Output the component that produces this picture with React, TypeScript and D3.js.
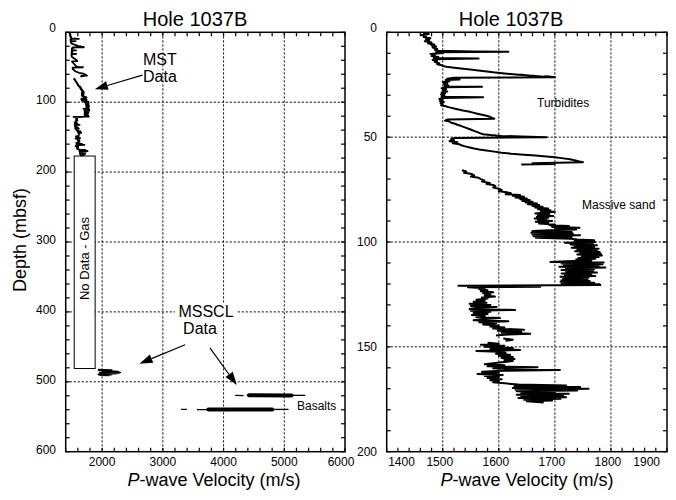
import React from "react";
import * as d3 from "d3";

type Pt = [number, number] | null; // [depth (mbsf), velocity (m/s)]

const panelTitles = ["Hole 1037B", "Hole 1037B"];
const yAxisTitle = "Depth (mbsf)";
const leftXTicks = [2000, 3000, 4000, 5000, 6000];
const leftYTicks = [0, 100, 200, 300, 400, 500, 600];
const rightXTicks = [1400, 1500, 1600, 1700, 1800, 1900];
const rightYTicks = [0, 50, 100, 150, 200];
const leftXGrid = [2000, 3000, 4000, 5000];
const leftYGrid = [100, 200, 300, 400, 500];
const rightXGrid = [1500, 1600, 1700, 1800];
const rightYGrid = [50, 100, 150];

// MST P-wave velocity trace
const mstTrace: Pt[] = [
  [0.3,1465],[0.8,1475],[1.3,1462],[1.8,1470],[2.3,1466],[2.8,1478],[3.3,1470],[3.8,1476],[4.3,1468],[4.8,1480],
  [5.3,1474],[5.8,1485],[6.3,1480],[6.8,1488],[7.3,1482],[7.8,1490],[8.3,1486],[8.8,1492],[9.1,1555],[9.3,1617],
  [9.5,1488],[9.9,1500],[10.3,1478],[10.8,1486],[11.3,1480],[11.8,1492],[12.2,1484],[12.5,1564],[12.8,1486],[13.2,1482],
  [13.7,1490],[14.2,1486],[14.7,1494],[15.2,1490],[15.7,1498],[16.2,1502],[16.6,1510],[17.1,1528],[17.6,1545],[18.1,1560],
  [18.6,1575],[19.1,1590],[19.6,1610],[20.1,1630],[20.5,1648],[20.3,1640],[20.9,1665],[20.7,1660],[21.2,1680],[21.0,1685],[21.4,1700],
  [21.7,1520],[22.1,1508],[22.5,1530],[22.8,1505],[23.3,1512],[23.8,1500],[24.3,1508],[24.8,1502],[25.3,1510],[25.8,1503],
  [26,1570],[26.2,1505],[26.7,1498],[27.2,1506],[27.7,1500],[28.2,1508],[28.7,1498],[29.2,1504],[29.7,1497],[30.2,1503],
  [30.7,1498],[31,1572],[31.3,1500],[31.8,1494],[32.3,1500],[32.8,1495],[33.3,1502],[33.8,1496],[34.3,1500],[34.8,1497],
  [35.3,1505],[35.8,1512],[36.3,1520],[36.8,1528],[37.3,1536],[37.8,1546],[38.3,1554],[38.8,1562],[39.3,1570],[39.8,1578],
  [40.3,1584],[40.8,1588],[41.2,1592],
  [41.6,1508],[42.1,1504],[42.6,1512],[43.1,1515],[43.6,1522],[44.1,1526],[44.6,1532],[45.1,1537],[45.6,1542],[46.1,1547],
  [46.6,1552],[47.1,1557],[47.6,1562],[48.1,1566],[48.6,1572],[49,1585],[49.4,1605],[49.7,1640],[50,1685],
  [50.4,1522],[50.9,1515],[51.4,1520],[51.9,1512],[52.4,1526],[52.9,1518],[53.4,1530],[53.9,1533],[54.4,1540],[54.9,1548],
  [55.4,1556],[55.9,1565],[56.4,1578],[56.9,1592],[57.4,1605],[57.9,1622],[58.4,1645],[58.8,1665],[59.2,1685],[59.6,1700],
  [60,1712],[60.5,1727],[61,1735],[61.5,1742],[62,1750],[62.4,1660],[62.8,1700],[63.1,1640],
  null,
  [65.8,1534],[66.4,1542],[67,1538],[67.6,1552],[68.2,1556],[68.8,1550],[69.4,1564],[70,1568],[70.6,1574],[71.2,1570],
  [71.8,1584],[72.3,1578],[72.8,1590],[73.4,1594],[74,1590],[74.6,1600],[75.2,1605],[75.8,1600],[76.3,1614],[76.8,1622],
  [77.2,1612],[77.6,1638],[78,1625],[78.4,1645],[78.8,1630],[79.2,1650],[79.6,1638],[80,1655],[80.4,1642],[80.8,1660],
  [81.2,1648],[81.6,1668],[82,1652],[82.4,1672],[82.8,1660],[83.2,1678],[83.6,1665],[84,1688],[84.4,1670],[84.8,1692],
  [85.2,1675],[85.6,1700],[86,1678],[86.4,1665],[86.8,1690],[87.2,1670],[87.6,1697],[88,1668],[88.4,1688],[88.8,1664],
  [89.2,1685],[89.6,1670],[90,1695],[90.4,1666],[90.8,1688],[91.2,1672],[91.6,1700],[92,1690],[92.4,1725],[92.8,1695],
  [93.2,1744],[93.6,1700],[94,1738],[94.4,1690],[94.8,1660],[95.2,1730],[95.6,1658],[96,1732],[96.4,1660],[96.8,1745],
  [97.2,1662],[97.6,1730],[98,1666],[98.4,1728],
  [98.8,1740],[99.2,1770],[99.6,1735],[100,1772],[100.4,1718],[100.8,1768],[101.2,1728],[101.6,1775],[102,1735],[102.4,1770],
  [102.8,1730],[103.2,1778],[103.6,1740],[104,1775],[104.4,1736],[104.8,1780],[105.2,1745],[105.6,1782],[106,1740],[106.4,1784],
  [106.8,1748],[107.2,1778],[107.6,1742],[108,1772],[108.4,1738],[108.8,1765],[109.2,1720],[109.5,1692],[109.8,1787],[110.2,1712],
  [110.6,1785],[111,1716],[111.4,1778],[111.8,1708],[112.2,1790],[112.6,1720],[113,1770],[113.4,1712],[113.8,1768],[114.2,1720],
  [114.6,1775],[115,1712],[115.4,1765],[115.8,1718],[116.2,1772],[116.6,1710],[117,1760],[117.4,1715],[117.8,1758],[118.2,1712],
  [118.6,1762],[119,1710],[119.4,1770],[119.8,1712],[120.2,1780],[120.5,1781],[120.9,1528],[121.3,1674],[121.6,1545],
  [122,1575],[122.5,1565],[123,1580],[123.5,1568],[124,1590],[124.5,1572],[125,1585],[125.5,1575],[126,1593],[126.5,1570],
  [127,1580],[127.5,1560],[128,1575],[128.5,1555],[129,1578],[129.5,1548],[130,1585],[130.5,1550],[131,1596],[131.5,1560],
  [132,1548],[132.4,1629],[132.8,1550],[133.3,1585],[133.8,1555],[134.3,1580],[134.8,1552],[135.3,1575],[135.8,1560],[136.3,1602],
  [136.8,1570],[137.3,1555],[137.8,1617],[138.3,1565],[138.8,1595],[139.3,1572],[139.8,1600],[140.3,1585],[140.8,1610],[141.3,1590],
  [141.8,1645],[142.3,1598],[142.8,1640],[143.3,1605],[143.8,1656],[144.2,1610],[144.6,1595],
  null,
  [146,1608],[146.6,1625],[147.1,1612],
  null,
  [148,1580],[148.5,1600],[149,1568],[149.5,1610],[150,1575],[150.5,1625],[151,1585],[151.5,1638],[152,1560],[152.3,1600],
  [152.8,1612],[153.3,1595],[153.8,1620],[154.3,1600],[154.8,1625],[155.3,1605],[155.8,1628],[156.3,1610],[156.8,1625],[157.3,1605],
  [157.8,1590],[158.3,1575],[158.8,1610],[159.3,1580],[159.7,1669],[160.2,1590],[160.7,1620],[161,1709],[161.4,1605],[161.9,1570],
  [162.4,1600],[162.9,1562],[163.4,1607],[163.9,1575],[164.4,1600],[164.9,1580],[165.4,1605],[165.9,1585],[166.4,1600],[166.9,1590],
  [167.4,1610],[168,1635],[168.4,1720],[168.8,1628],[169.2,1745],[169.6,1625],[170,1760],[170.4,1630],[170.8,1740],[171.2,1632],
  [171.6,1700],[172,1640],[172.4,1725],[172.8,1632],[173.2,1715],[173.6,1640],[174,1720],[174.4,1635],[174.8,1710],[175.2,1645],
  [175.6,1695],[176,1650],[176.5,1680]
];

// MSSCL data (deep part of the hole)
const mssclShallow: Pt[] = [
  [482.5,1930],[483,2160],[483.8,1940],[484.6,2120],[485.3,2270],[486,2000],[486.6,2300],[487.2,1960],
  [487.8,2280],[488.5,2200],[489.2,1935],[489.8,2150],[490.5,1950],[491,2120]
];
const basaltThin: Pt[] = [
  [519.5,4190],[519.8,4330], null, [519.2,4380],[519.5,5345], null,
  [539.5,3300],[539.5,3395], null, [539.8,3560],[539.5,5070]
];
const basaltCore: Pt[] = [
  [519.2,4420],[519.5,5120], null, [539.5,3750],[539.8,4800]
];

// "No Data - Gas" interval
const noDataDepth = [177, 481];
const noDataVel = [1540, 1885];

// annotation arrows: [depth, velocity] from -> to
const leftArrows: [[number, number], [number, number]][] = [
  [[61.3, 2665], [81.3, 1880]],
  [[447, 3367], [474, 2616]],
  [[451.5, 3775], [504.6, 4217]]
];

const FONT = "'Liberation Sans', Arial, Helvetica, sans-serif";

function Frame({ xs, ys, xStep, yStep, xGrid, yGrid }: any) {
  const [x0, x1] = xs.range();
  const [y0, y1] = ys.range();
  const [dx0, dx1] = xs.domain();
  const [dy0, dy1] = ys.domain();
  const xm = d3.range(dx0, dx1 + 1e-6, xStep);
  const ym = d3.range(dy0, dy1 + 1e-6, yStep);
  const T = 4;
  return (
    <g>
      {xGrid.map((v: number) => (
        <line key={"gx" + v} x1={xs(v)} x2={xs(v)} y1={y0} y2={y1} stroke="#111" strokeWidth={1} strokeDasharray="2.2,1.8" />
      ))}
      {yGrid.map((v: number) => (
        <line key={"gy" + v} x1={x0} x2={x1} y1={ys(v)} y2={ys(v)} stroke="#111" strokeWidth={1} strokeDasharray="2.2,1.8" />
      ))}
      {xm.map((v: number) => (
        <g key={"tx" + v}>
          <line x1={xs(v)} x2={xs(v)} y1={y0} y2={y0 + T} stroke="#000" strokeWidth={1.2} />
          <line x1={xs(v)} x2={xs(v)} y1={y1} y2={y1 - T} stroke="#000" strokeWidth={1.2} />
        </g>
      ))}
      {ym.map((v: number) => (
        <g key={"ty" + v}>
          <line x1={x0} x2={x0 + T} y1={ys(v)} y2={ys(v)} stroke="#000" strokeWidth={1.2} />
          <line x1={x1} x2={x1 - T} y1={ys(v)} y2={ys(v)} stroke="#000" strokeWidth={1.2} />
        </g>
      ))}
    </g>
  );
}

function Arrow({ from, to }: { from: [number, number]; to: [number, number] }) {
  const [fx, fy] = from;
  const [tx, ty] = to;
  const dx = tx - fx, dy = ty - fy;
  const L = Math.hypot(dx, dy);
  const ux = dx / L, uy = dy / L;
  const len = 13, hw = 4.5;
  const bx = tx - ux * len, by = ty - uy * len;
  const pts = `${tx},${ty} ${bx - uy * hw},${by + ux * hw} ${bx + uy * hw},${by - ux * hw}`;
  return (
    <g>
      <line x1={fx} y1={fy} x2={bx} y2={by} stroke="#000" strokeWidth={1.2} />
      <polygon points={pts} fill="#000" />
    </g>
  );
}

export default function App() {
  const W = 676, H = 500;
  const top = 32.3, bottom = 451.7;
  const yL = d3.scaleLinear().domain([0, 600]).range([top, bottom]);
  const xL = d3.scaleLinear().domain([1400, 6000]).range([65.7, 345]);
  const yR = d3.scaleLinear().domain([0, 200]).range([top, bottom]);
  const xR = d3.scaleLinear().domain([1400, 1900]).range([386.7, 667]);

  const mk = (xs: any, ys: any) =>
    d3.line<Pt>().defined((d) => d !== null).x((d) => xs((d as any)[1])).y((d) => ys((d as any)[0]));
  const lineL = mk(xL, yL);
  const lineR = mk(xR, yR);

  const tickStyle = { fontFamily: FONT, fontSize: 12, fill: "#000" } as any;
  const tickBase = 465.5;
  const titleBase = 485.5;

  return (
    <svg width={W} height={H} style={{ position: "absolute", left: 0, top: 0, background: "#fff" }} fontFamily={FONT}>
      <rect x={0} y={0} width={W} height={H} fill="#fff" />

      {/* LEFT PANEL */}
      <Frame xs={xL} ys={yL} xStep={200} yStep={20} xGrid={leftXGrid} yGrid={leftYGrid} />
      <rect x={xL(noDataVel[0])} y={yL(noDataDepth[0])} width={xL(noDataVel[1]) - xL(noDataVel[0])}
        height={yL(noDataDepth[1]) - yL(noDataDepth[0])} fill="#fff" stroke="#000" strokeWidth={1} />
      <text transform={`translate(${(xL(noDataVel[0]) + xL(noDataVel[1])) / 2 + 4.6},${258.5}) rotate(-90)`}
        textAnchor="middle" fontSize={13}>No Data - Gas</text>
      <path d={lineL(mstTrace) || ""} fill="none" stroke="#000" strokeWidth={1.8} strokeLinejoin="round" />
      <path d={lineL(mssclShallow) || ""} fill="none" stroke="#000" strokeWidth={1.5} strokeLinejoin="round" />
      <path d={lineL(basaltThin) || ""} fill="none" stroke="#000" strokeWidth={1.3} />
      <path d={lineL(basaltCore) || ""} fill="none" stroke="#000" strokeWidth={4} strokeLinecap="round" />
      <rect x={xL(1400)} y={top} width={xL(6000) - xL(1400)} height={bottom - top} fill="none" stroke="#000" strokeWidth={1.5} />

      {leftArrows.map((a, i) => (
        <Arrow key={i} from={[xL(a[0][1]), yL(a[0][0])]} to={[xL(a[1][1]), yL(a[1][0])]} />
      ))}
      <text x={143} y={65} fontSize={16}>MST</text>
      <text x={143} y={82} fontSize={16}>Data</text>
      <rect x={175} y={303} width={62} height={16} fill="#fff" />
      <text x={206} y={317} fontSize={16} textAnchor="middle">MSSCL</text>
      <text x={200} y={334} fontSize={16} textAnchor="middle">Data</text>
      <text x={297} y={410} fontSize={12}>Basalts</text>

      {leftXTicks.map((v, i) => (
        <text key={"lx" + v} x={xL(v) - (i === leftXTicks.length - 1 ? 4 : 0)} y={tickBase} textAnchor="middle" style={tickStyle}>{v}</text>
      ))}
      {leftYTicks.map((v) => (
        <text key={"ly" + v} x={56} y={v === 0 ? yL(v) : yL(v) + 2} textAnchor="end" style={tickStyle}>{v}</text>
      ))}
      <text x={195} y={26} fontSize={20} textAnchor="middle">{panelTitles[0]}</text>
      <text x={214} y={titleBase} fontSize={18} textAnchor="middle"><tspan fontStyle="italic">P</tspan>-wave Velocity (m/s)</text>
      <text transform="translate(26,240) rotate(-90)" fontSize={18} textAnchor="middle">{yAxisTitle}</text>

      {/* RIGHT PANEL */}
      <Frame xs={xR} ys={yR} xStep={20} yStep={10} xGrid={rightXGrid} yGrid={rightYGrid} />
      <path d={lineR(mstTrace) || ""} fill="none" stroke="#000" strokeWidth={2} strokeLinejoin="round" />
      <rect x={xR(1400)} y={top} width={xR(1900) - xR(1400)} height={bottom - top} fill="none" stroke="#000" strokeWidth={1.5} />
      <text x={537} y={107} fontSize={12}>Turbidites</text>
      <text x={582} y={209} fontSize={12}>Massive sand</text>

      {rightXTicks.map((v, i) => {
        const last = i === rightXTicks.length - 1;
        const first = i === 0;
        return (
          <text key={"rx" + v} x={first ? xR(v) + 1.5 : last ? xR(v) - 7 : xR(v) - 3} y={tickBase}
            textAnchor={first ? "start" : last ? "end" : "middle"} style={tickStyle}>{v}</text>
        );
      })}
      {rightYTicks.map((v) => (
        <text key={"ry" + v} x={377} y={v === 0 ? yR(v) : yR(v) + 4} textAnchor="end" style={tickStyle}>{v}</text>
      ))}
      <text x={511} y={26} fontSize={20} textAnchor="middle">{panelTitles[1]}</text>
      <text x={527} y={titleBase} fontSize={18} textAnchor="middle"><tspan fontStyle="italic">P</tspan>-wave Velocity (m/s)</text>
    </svg>
  );
}
